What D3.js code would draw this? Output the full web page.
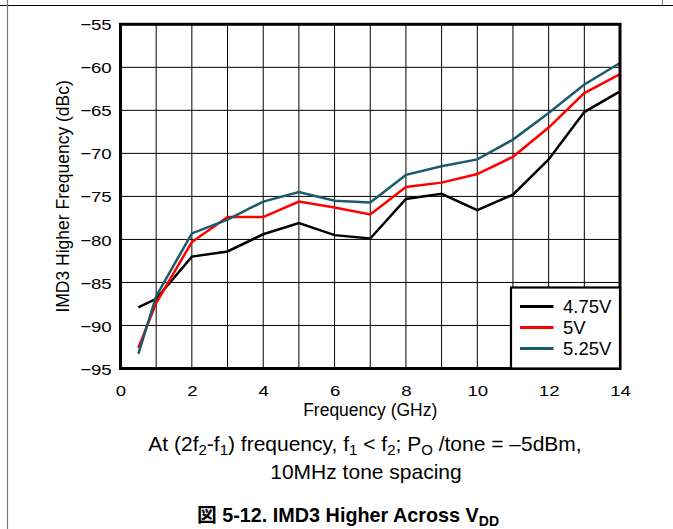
<!DOCTYPE html>
<html>
<head>
<meta charset="utf-8">
<script src="https://cdn.jsdelivr.net/npm/d3@7"></script>
<style>
  html, body { margin: 0; padding: 0; background: #fff; }
  svg { display: block; font-family: "Liberation Sans", Arial, "Noto Sans CJK JP", sans-serif; }
</style>
</head>
<body>
<svg id="chart" width="673" height="529"></svg>
<script>
// Frequency points (GHz)
const freq = [0.5, 1, 2, 3, 4, 5, 6, 7, 8, 9, 10, 11, 12, 13, 14];
// IMD3 higher-frequency product (dBc) per supply voltage
const vdd475 = [-87.9, -86.9, -82.0, -81.4, -79.4, -78.1, -79.5, -79.9, -75.3, -74.7, -76.6, -74.8, -70.7, -65.2, -62.8];
const vdd500 = [-92.6, -87.4, -80.3, -77.4, -77.4, -75.6, -76.3, -77.1, -73.9, -73.4, -72.4, -70.4, -67.0, -63.0, -60.8];
const vdd525 = [-93.3, -86.6, -79.3, -77.7, -75.6, -74.5, -75.5, -75.7, -72.5, -71.5, -70.7, -68.4, -65.3, -62.0, -59.5];
const seriesNames = ["4.75V", "5V", "5.25V"];
const seriesColors = ["#000000", "#ff0000", "#1b5b6b"];
const xTicks = [0, 2, 4, 6, 8, 10, 12, 14];
const xGrid = d3.range(0, 15, 1);
const yTicks = [-55, -60, -65, -70, -75, -80, -85, -90, -95];

const svg = d3.select("#chart");
const plot = { left: 120.5, right: 620, top: 24.3, bottom: 368.5 };

const x = d3.scaleLinear().domain([0, 14]).range([plot.left, plot.right]);
const y = d3.scaleLinear().domain([-95, -55]).range([plot.bottom, plot.top]);

// widen a text horizontally by factor k, keeping its anchor
function widen(sel, k) {
  sel.each(function () {
    const len = this.getComputedTextLength();
    d3.select(this).attr("textLength", len * k).attr("lengthAdjust", "spacingAndGlyphs");
  });
}

// page rules
svg.append("line").attr("x1", 0).attr("x2", 673).attr("y1", 5.5).attr("y2", 5.5)
  .attr("stroke", "#000").attr("stroke-width", 1.2);
svg.append("line").attr("x1", 7.5).attr("x2", 7.5).attr("y1", 0).attr("y2", 529)
  .attr("stroke", "#777").attr("stroke-width", 1.2);
svg.append("line").attr("x1", 662.5).attr("x2", 662.5).attr("y1", 0).attr("y2", 5.5)
  .attr("stroke", "#777").attr("stroke-width", 1);

// grid
const grid = svg.append("g");
grid.selectAll("line.vx").data(xGrid).join("line")
  .attr("x1", d => x(d)).attr("x2", d => x(d))
  .attr("y1", plot.top).attr("y2", plot.bottom)
  .attr("stroke", "#000").attr("stroke-width", 1);
grid.selectAll("line.hy").data(yTicks).join("line")
  .attr("x1", plot.left).attr("x2", plot.right)
  .attr("y1", d => y(d)).attr("y2", d => y(d))
  .attr("stroke", "#000").attr("stroke-width", 1);

// axes (labels only; frame drawn separately)
const tickFont = 15.5;
const xAxis = svg.append("g").attr("transform", `translate(0,${plot.bottom})`)
  .call(d3.axisBottom(x).tickValues(xTicks).tickSize(0).tickFormat(d3.format("d")));
xAxis.select(".domain").remove();
xAxis.selectAll("text").attr("y", 27).attr("dy", 0)
  .attr("font-size", tickFont).attr("fill", "#000")
  .style("font-family", "'Liberation Sans', Arial, sans-serif");
widen(xAxis.selectAll("text"), 1.2);

const yAxis = svg.append("g").attr("transform", `translate(${plot.left},0)`)
  .call(d3.axisLeft(y).tickValues(yTicks).tickSize(0).tickPadding(8.8).tickFormat(d3.format("d")));
yAxis.select(".domain").remove();
yAxis.selectAll("text").attr("dy", "0.36em")
  .attr("font-size", tickFont).attr("fill", "#000")
  .style("font-family", "'Liberation Sans', Arial, sans-serif");
widen(yAxis.selectAll("text"), 1.2);

// axis titles
svg.append("text").attr("x", x(7)).attr("y", 416)
  .attr("text-anchor", "middle").attr("font-size", 17.5).text("Frequency (GHz)");
svg.append("text").attr("transform", `translate(69,${(plot.top + plot.bottom) / 2}) rotate(-90)`)
  .attr("text-anchor", "middle").attr("font-size", 17.5).text("IMD3 Higher Frequency (dBc)");

// series
const seriesData = [vdd475, vdd500, vdd525];
const line = d3.line().x(d => x(d[0])).y(d => y(d[1]));
svg.append("g").selectAll("path").data(seriesData).join("path")
  .attr("d", vals => line(freq.map((f, i) => [f, vals[i]])))
  .attr("fill", "none")
  .attr("stroke", (d, i) => seriesColors[i])
  .attr("stroke-width", 2.5)
  .attr("stroke-linejoin", "miter");

// frame
svg.append("rect")
  .attr("x", plot.left).attr("y", plot.top)
  .attr("width", plot.right - plot.left).attr("height", plot.bottom - plot.top)
  .attr("fill", "none").attr("stroke", "#000").attr("stroke-width", 3);

// legend
const lg = svg.append("g");
lg.append("rect").attr("x", 511).attr("y", 287.5).attr("width", plot.right - 511).attr("height", plot.bottom - 287.5)
  .attr("fill", "#fff").attr("stroke", "#000").attr("stroke-width", 2.2);
const rows = lg.selectAll("g.row").data(seriesNames).join("g")
  .attr("transform", (d, i) => `translate(0,${306.5 + i * 21})`);
rows.append("line").attr("x1", 520).attr("x2", 553.5).attr("y1", 0).attr("y2", 0)
  .attr("stroke", (d, i) => seriesColors[i]).attr("stroke-width", 3);
rows.append("text").attr("x", 563).attr("y", 0).attr("dy", "0.36em")
  .attr("font-size", 18.5).text(d => d);

// caption with subscripts
function addRich(parent, parts, attrs) {
  const t = parent.append("text");
  Object.entries(attrs).forEach(([k, v]) => t.attr(k, v));
  parts.forEach(p => {
    const ts = t.append("tspan").text(p.t);
    if (p.sub) ts.attr("font-size", p.subSize).attr("baseline-shift", "-28%");
  });
  return t;
}
const capSub = 15;
const cap1 = [
  { t: "At (2f" }, { t: "2", sub: true, subSize: capSub }, { t: "-f" }, { t: "1", sub: true, subSize: capSub },
  { t: ") frequency, f" }, { t: "1", sub: true, subSize: capSub }, { t: " < f" }, { t: "2", sub: true, subSize: capSub },
  { t: "; P" }, { t: "O", sub: true, subSize: capSub }, { t: " /tone = \u20135dBm," }
];
addRich(svg, cap1, { x: 365, y: 451, "text-anchor": "middle", "font-size": 21 });
svg.append("text").attr("x", 366).attr("y", 479).attr("text-anchor", "middle")
  .attr("font-size", 21).text("10MHz tone spacing");
addRich(svg, [{ t: "\u56f3 5-12. IMD3 Higher Across V" }, { t: "DD", sub: true, subSize: 14 }],
  { x: 348, y: 522, "text-anchor": "middle", "font-size": 19.8, "font-weight": "bold" });
</script>
</body>
</html>
